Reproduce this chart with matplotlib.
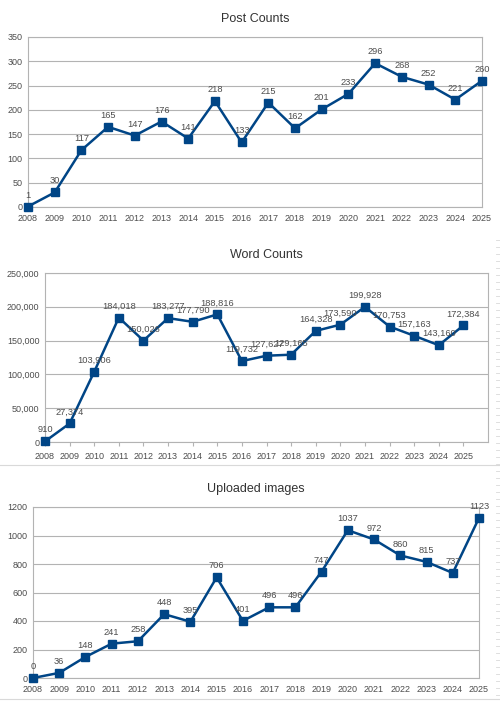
import matplotlib

matplotlib.use("Agg")

import matplotlib.pyplot as plt
from matplotlib.lines import Line2D
from matplotlib.ticker import FuncFormatter

years = list(range(2008, 2026))

post_counts = [1, 30, 117, 165, 147, 176, 141, 218, 133, 215, 162, 201, 233, 296, 268, 252, 221, 260]
word_counts = [910, 27374, 103906, 184018, 150026, 183277, 177790, 188816, 119732, 127627,
               129165, 164328, 173590, 199928, 170753, 157163, 143160, 172384]
uploaded_images = [0, 36, 148, 241, 258, 448, 395, 706, 401, 496, 496, 747, 1037, 972, 860, 815, 737, 1123]

post_ticks = [0, 50, 100, 150, 200, 250, 300, 350]
word_ticks = [0, 50000, 100000, 150000, 200000, 250000]
image_ticks = [0, 200, 400, 600, 800, 1000, 1200]

W, H = 500, 702
LINE_COLOR = "#004586"
GRID_COLOR = "#b3b3b3"
TEXT_COLOR = "#4d4d4d"

plt.rcParams["font.family"] = ["Liberation Sans", "DejaVu Sans"]


def px_axes(fig, left, top, right, bottom):
    return fig.add_axes([left / W, (H - bottom) / H, (right - left) / W, (bottom - top) / H])


def draw_chart(ax, title, values, yticks, xmax, comma=False, xticks_marks=False):
    ax.plot(years, values, color=LINE_COLOR, linewidth=1.8, marker="s",
            markersize=5.5, markeredgecolor=LINE_COLOR, zorder=3, clip_on=False)
    ax.set_xlim(years[0], xmax)
    ax.set_ylim(yticks[0], yticks[-1])
    ax.set_yticks(yticks)
    ax.set_xticks(years)
    ax.set_xticklabels([str(y) for y in years])
    if comma:
        ax.yaxis.set_major_formatter(FuncFormatter(lambda v, p: f"{int(v):,}"))
    ax.grid(axis="y", color=GRID_COLOR, linewidth=0.8)
    ax.set_axisbelow(True)
    for side in ax.spines.values():
        side.set_color(GRID_COLOR)
        side.set_linewidth(0.8)
    ax.tick_params(axis="y", length=0, pad=4, labelsize=6.5, labelcolor=TEXT_COLOR)
    ax.tick_params(axis="x", length=3 if xticks_marks else 0, color=GRID_COLOR,
                   pad=4 if xticks_marks else 5, labelsize=6.5, labelcolor=TEXT_COLOR)
    for x, v in zip(years, values):
        label = f"{v:,}" if comma else str(v)
        ax.annotate(label, (x, v), xytext=(0, 5), textcoords="offset points",
                    ha="center", va="bottom", fontsize=6.7, color=TEXT_COLOR, zorder=4)
    ax.set_title(title, fontsize=9, color="#333333", pad=11)


fig = plt.figure(figsize=(W / 100, H / 100), dpi=100)
fig.patch.set_facecolor("white")

ax1 = px_axes(fig, 28, 37, 482, 207)
draw_chart(ax1, "Post Counts", post_counts, post_ticks, 2025)

ax2 = px_axes(fig, 45, 273, 488, 442)
draw_chart(ax2, "Word Counts", word_counts, word_ticks, 2026, comma=True, xticks_marks=True)

ax3 = px_axes(fig, 33, 507, 479, 678)
draw_chart(ax3, "Uploaded images", uploaded_images, image_ticks, 2025)

# spreadsheet cell borders showing around the charts
sep_color = "#d9d9d9"
for y in (465, 699):
    fig.add_artist(Line2D([0, 1], [(H - y) / H] * 2, color=sep_color, linewidth=0.8))
for y in range(240, 700, 7):
    fig.add_artist(Line2D([496 / W, 500 / W], [(H - y) / H] * 2, color=sep_color, linewidth=0.6))

fig.savefig("out.png", dpi=100, facecolor="white")
